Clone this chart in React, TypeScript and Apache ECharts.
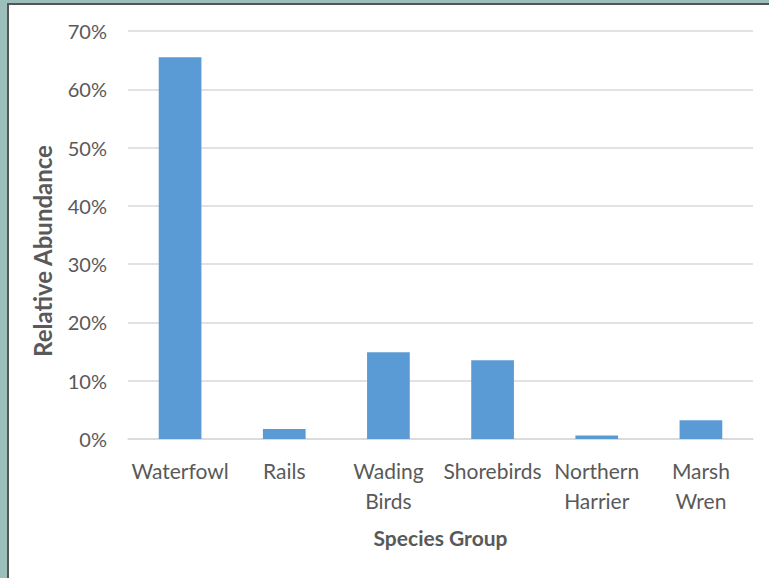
import React, { useEffect, useRef } from "react";
import * as echarts from "echarts";

const categories = ["Waterfowl", "Rails", "Wading\nBirds", "Shorebirds", "Northern\nHarrier", "Marsh\nWren"];
const abundance = [65.5, 1.7, 14.9, 13.5, 0.6, 3.2];
const yTicks = [0, 10, 20, 30, 40, 50, 60, 70];

const FONT = "Lato, 'Open Sans', sans-serif";
const TEXT = "#595959";

export default function App() {
  const ref = useRef<HTMLDivElement>(null);
  useEffect(() => {
    document.body.style.margin = "0";
    if (!ref.current) return;
    const chart = echarts.init(ref.current, null, { renderer: "svg" });
    chart.setOption({
      animation: false,
      backgroundColor: "#ffffff",
      grid: { left: 119, right: 16, top: 26, bottom: 139, containLabel: false },
      xAxis: {
        type: "category",
        data: categories,
        name: "Species Group",
        nameLocation: "middle",
        nameGap: 88,
        nameTextStyle: { color: TEXT, fontFamily: FONT, fontSize: 21, fontWeight: "bold" },
        axisLine: { show: true, lineStyle: { color: "#d9d9d9", width: 1.5 } },
        axisTick: { show: false },
        axisLabel: {
          interval: 0,
          color: TEXT,
          fontFamily: FONT,
          fontSize: 21,
          lineHeight: 30,
          margin: 16,
        },
      },
      yAxis: {
        type: "value",
        min: yTicks[0],
        max: yTicks[yTicks.length - 1],
        interval: 10,
        axisLine: { show: false },
        axisTick: { show: false },
        splitLine: { lineStyle: { color: "#d9d9d9", width: 1.5 } },
        axisLabel: {
          formatter: "{value}%",
          color: TEXT,
          fontFamily: FONT,
          fontSize: 20,
          margin: 21,
        },
      },
      graphic: [
        {
          type: "text",
          x: 33,
          y: 246,
          rotation: Math.PI / 2,
          style: {
            text: "Relative Abundance",
            fill: TEXT,
            font: `bold 24px ${FONT}`,
            textAlign: "center",
            textVerticalAlign: "middle",
          },
        },
      ],
      series: [
        {
          type: "bar",
          data: abundance,
          barWidth: "41%",
          itemStyle: { color: "#5b9bd5" },
        },
      ],
    });
    return () => chart.dispose();
  }, []);

  return (
    <div style={{ position: "relative", width: 769, height: 578, background: "#9dbfbc", overflow: "hidden" }}>
      <div
        style={{
          position: "absolute",
          left: 7,
          top: 3,
          width: 762,
          height: 575,
          borderLeft: "2px solid #555555",
          borderTop: "2px solid #555555",
          background: "#ffffff",
        }}
      >
        <div ref={ref} style={{ width: 760, height: 573 }} />
      </div>
    </div>
  );
}
